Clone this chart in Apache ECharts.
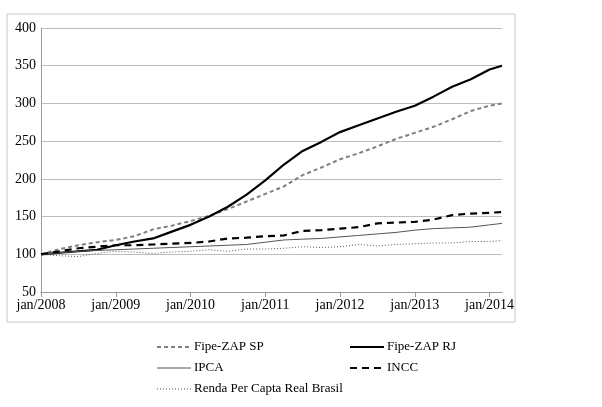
<!DOCTYPE html>
<html>
<head>
<meta charset="utf-8">
<script src="https://cdn.jsdelivr.net/npm/echarts@6/dist/echarts.min.js"></script>
<style>html,body{margin:0;padding:0;background:#fff}#c{width:602px;height:407px}</style>
</head>
<body>
<div id="c"></div>
<script>
// months since jan/2008 where values were read
const monthIdx = [0,3,6,9,12,15,18,21,24,27,30,33,36,39,42,45,48,51,54,57,60,63,66,69,72,74];
const fipeSP = [100,107,112,116,119,124,133,138,144,151,160,170,180,190,205,215,226,234,243,253,261,269,279,290,297,300];
const fipeRJ = [100,102,104,106,112,117,121,130,139,150,163,179,198,219,237,249,262,271,280,289,297,309,322,332,345,350];
const ipca = [100,102,104,105,106,107,108,109,110,111,112,113,116,119,120,121,123,125,127,129,132,134,135,136,139,141];
const incc = [100,104,108,110,112,112,113,114,115,117,121,122,124,125,131,132,134,136,141,142,143,146,152,154,155,156];
const renda = [100,98,97,101,104,103,101,103,104,106,104,107,107,108,110,109,110,113,111,113,114,115,115,117,117,118];

const mes = ['jan','fev','mar','abr','mai','jun','jul','ago','set','out','nov','dez'];
const categories = [];
for (let i = 0; i <= 74; i++) categories.push(mes[i % 12] + '/' + (2008 + Math.floor(i / 12)));

const pairs = vals => vals.map((v, i) => [monthIdx[i], v]);
const font = 'Liberation Serif';

const styles = [
    {name: 'Fipe-ZAP SP', data: fipeSP, color: '#808080', width: 2, type: [4, 3], lx: 157, ly: 347},
    {name: 'Fipe-ZAP RJ', data: fipeRJ, color: '#000', width: 2.2, type: 'solid', lx: 350, ly: 347},
    {name: 'IPCA', data: ipca, color: '#555', width: 1, type: 'solid', lx: 157, ly: 368},
    {name: 'INCC', data: incc, color: '#000', width: 2.2, type: [7, 5], lx: 350, ly: 368},
    {name: 'Renda Per Capta Real Brasil', data: renda, color: '#555', width: 1, type: [1, 2], lx: 157, ly: 389}
];

// legend drawn as graphics
const legendGraphics = [];
styles.forEach(s => {
    legendGraphics.push({type: 'line', shape: {x1: s.lx, y1: s.ly, x2: s.lx + 34, y2: s.ly},
        style: {stroke: s.color, lineWidth: s.width, lineDash: s.type === 'solid' ? null : s.type}});
    legendGraphics.push({type: 'text', x: s.lx + 37, y: s.ly, style: {text: s.name, fill: '#000',
        font: '13px "' + font + '"', verticalAlign: 'middle'}});
});

const chart = echarts.init(document.getElementById('c'));
chart.setOption({
    animation: false,
    graphic: [{type: 'rect', shape: {x: 7, y: 14, width: 508, height: 308},
        style: {fill: 'none', stroke: '#c8c8c8', lineWidth: 1}}].concat(legendGraphics),
    grid: {left: 41, right: 100, top: 28, bottom: 115},
    xAxis: {
        type: 'category', data: categories, boundaryGap: false,
        axisLine: {lineStyle: {color: '#999'}},
        axisTick: {interval: i => i % 12 === 0, lineStyle: {color: '#999'}},
        axisLabel: {interval: i => i % 12 === 0, fontFamily: font, fontSize: 14, color: '#000', margin: 6}
    },
    yAxis: {
        type: 'value', min: 50, max: 400, interval: 50,
        axisLine: {show: true, lineStyle: {color: '#999'}},
        axisTick: {show: false},
        splitLine: {lineStyle: {color: '#bdbdbd'}},
        axisLabel: {fontFamily: font, fontSize: 14, color: '#000', margin: 5}
    },
    series: styles.map(s => ({
        name: s.name, type: 'line', data: pairs(s.data), symbol: 'none',
        lineStyle: {color: s.color, width: s.width, type: s.type}
    }))
});
</script>
</body>
</html>
